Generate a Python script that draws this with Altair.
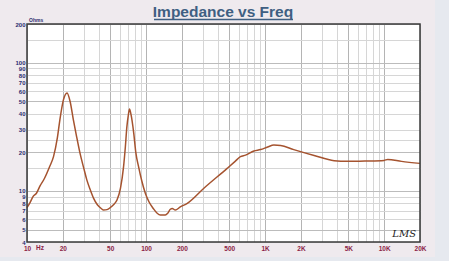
import altair as alt
import pandas as pd

freq = [10, 10.6, 11.2, 12, 12.9, 14, 15.5, 16.7, 18, 18.9, 20.2, 21.7, 23, 24.5, 26, 27.9,
        30, 31.8, 34, 36.2, 39, 42, 44, 47, 50, 54, 57, 61, 64.7, 67, 69, 71, 72.6, 74.5,
        78.8, 82, 86.6, 92, 98.6, 106, 115, 124, 132, 145, 152, 160, 166, 176, 194, 222,
        306, 480, 560, 620, 685, 805, 915, 1050, 1185, 1350, 1740, 2580, 3800, 4930, 7000,
        10000, 10700, 14000, 20000]
imp = [7.4, 8.1, 9.0, 9.6, 11, 12.5, 15.5, 18.5, 26, 36, 51, 58, 50, 36, 27, 19.6,
       15, 12.2, 10.2, 8.8, 7.8, 7.3, 7.1, 7.15, 7.4, 7.9, 8.5, 10.5, 15.4, 22, 31.6, 39, 43.5, 40,
       28.2, 20, 15.4, 12, 9.6, 8.2, 7.3, 6.7, 6.5, 6.5, 6.7, 7.2, 7.3, 7.1, 7.5, 8.0,
       10.5, 15, 17, 18.5, 19, 20.5, 21, 22, 22.8, 22.6, 21, 18.9, 17.2, 17, 17.1,
       17.3, 17.6, 17, 16.4]

x_grid = [10, 20, 30, 40, 50, 60, 70, 80, 90, 100, 200, 300, 400, 500, 600, 700, 800, 900,
          1000, 2000, 3000, 4000, 5000, 6000, 7000, 8000, 9000, 10000, 20000]
x_labels = {10: "10", 20: "20", 50: "50", 100: "100", 200: "200", 500: "500",
            1000: "1K", 2000: "2K", 5000: "5K", 10000: "10K", 20000: "20K"}
y_grid = [4, 5, 6, 7, 8, 9, 10, 15, 20, 25, 30, 40, 50, 60, 70, 80, 90, 100, 150, 200]
y_labels = [4, 5, 6, 7, 8, 9, 10, 20, 30, 40, 50, 60, 70, 80, 90, 100, 200]

df = pd.DataFrame({"f": freq, "z": imp})

W, H = 393, 218

x_label_expr = " : ".join(
    f"datum.value == {k} ? '{v}'" for k, v in x_labels.items()) + " : ''"
y_label_expr = " : ".join(
    f"datum.value == {k} ? '{k}'" for k in y_labels) + " : ''"
x_major = " || ".join(f"datum.value == {k}" for k in x_labels)
y_major = " || ".join(f"datum.value == {k}" for k in [5, 10, 20, 50, 100, 200])

xscale = alt.Scale(type="log", domain=[10, 20000], nice=False)
yscale = alt.Scale(type="log", domain=[4, 200], nice=False)

curve = alt.Chart(df).mark_line(color="#a5532f", strokeWidth=1.5, interpolate="monotone").encode(
    x=alt.X("f:Q", scale=xscale, title=None,
            axis=alt.Axis(values=x_grid, labelExpr=x_label_expr, ticks=False, domain=False,
                          grid=True,
                          gridColor={"condition": {"test": x_major, "value": "#b4b4b4"}, "value": "#d6d6d6"},
                          gridWidth=1, labelColor="#8b2346", labelFontSize=6.5, labelFontWeight="bold",
                          labelFont="Liberation Sans", labelPadding=3, labelOverlap=False,
                          labelFlush=False)),
    y=alt.Y("z:Q", scale=yscale, title=None,
            axis=alt.Axis(values=y_grid, labelExpr=y_label_expr, ticks=False, domain=False,
                          grid=True,
                          gridColor={"condition": {"test": y_major, "value": "#bcbcbc"}, "value": "#d6d6d6"},
                          gridWidth=1, labelColor="#2b2d6e", labelFontSize=6, labelFontWeight="bold",
                          labelFont="Liberation Sans", labelPadding=2, labelOverlap=False,
                          labelFlush=False)),
)

title = alt.Chart(pd.DataFrame({"t": ["Impedance vs Freq"]})).mark_text(
    font="Liberation Sans", fontSize=15.5, fontWeight="bold", color="#3f5f82",
    align="center", baseline="alphabetic").encode(
    text="t:N", x=alt.value(196), y=alt.value(-7))

underline = alt.Chart(pd.DataFrame({"a": [0]})).mark_rule(color="#3f5f82", strokeWidth=1.3).encode(
    x=alt.value(127), x2=alt.value(266), y=alt.value(-4.5))

ohms = alt.Chart(pd.DataFrame({"t": ["Ohms"]})).mark_text(
    font="Liberation Sans", fontSize=5, fontWeight="bold", color="#2b2d6e",
    align="left", baseline="alphabetic").encode(text="t:N", x=alt.value(2), y=alt.value(-2))

hz = alt.Chart(pd.DataFrame({"t": ["Hz"]})).mark_text(
    font="Liberation Sans", fontSize=6.5, fontWeight="bold", color="#8b2346",
    align="left", baseline="top").encode(text="t:N", x=alt.value(9), y=alt.value(H + 3))

lms = alt.Chart(pd.DataFrame({"t": ["LMS"]})).mark_text(
    font="DejaVu Serif", fontSize=10, fontStyle="italic", color="#222222",
    align="right", baseline="alphabetic").encode(text="t:N", x=alt.value(W - 4), y=alt.value(H - 5))

frame = alt.Chart(pd.DataFrame({"a": [0]})).mark_rect(
    fill=None, stroke="#3a3a3a", strokeWidth=1.5).encode(
    x=alt.value(0), x2=alt.value(W), y=alt.value(0), y2=alt.value(H))

right_strip = alt.Chart(pd.DataFrame({"a": [0]})).mark_rect(color="#e6e9ef").encode(
    x=alt.value(408), x2=alt.value(425), y=alt.value(-24), y2=alt.value(240))
bottom_strip = alt.Chart(pd.DataFrame({"a": [0]})).mark_rect(color="#e6e9ef").encode(
    x=alt.value(-27), x2=alt.value(425), y=alt.value(233), y2=alt.value(240))

chart = alt.layer(right_strip, bottom_strip, curve, frame, title, underline, ohms, hz, lms).properties(
    width=W, height=H,
    autosize=alt.AutoSizeParams(type="none"),
    padding={"left": 27, "top": 24, "right": 29, "bottom": 19},
    background="#efeaee",
).configure_view(fill="white", stroke=None)

chart.save("out.html", embed_options={"renderer": "svg", "actions": False})
